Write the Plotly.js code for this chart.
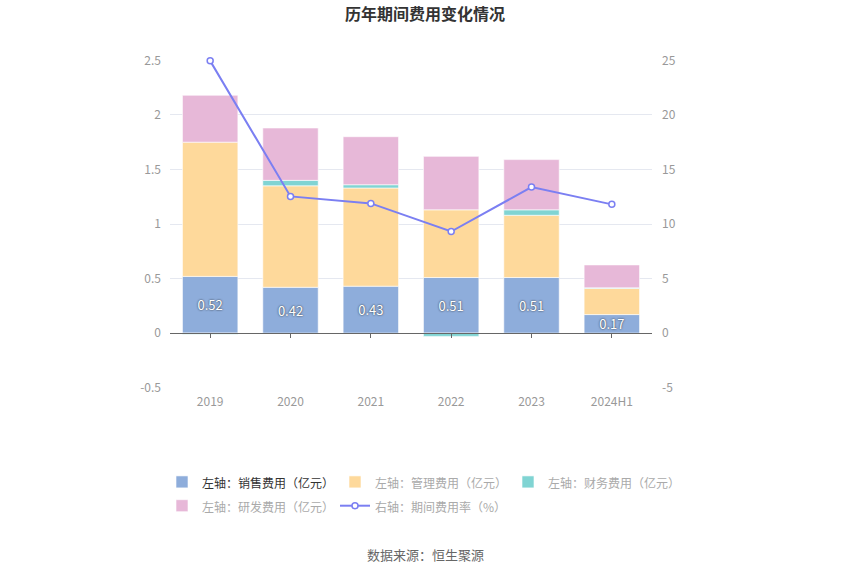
<!DOCTYPE html>
<html><head><meta charset="utf-8">
<script src="https://cdn.plot.ly/plotly-3.0.1.min.js"></script>
<style>body{margin:0;background:#fff}</style>
</head><body>
<div id="chart" style="width:850px;height:575px"></div>
<script>
const years = ['2019','2020','2021','2022','2023','2024H1'];
const sales = [0.52, 0.42, 0.43, 0.51, 0.51, 0.17];
const admin = [1.23, 0.93, 0.90, 0.62, 0.57, 0.24];
const finance = [-0.01, 0.05, 0.03, -0.03, 0.05, 0.005];
const rnd = [0.43, 0.48, 0.44, 0.49, 0.46, 0.21];
const rate = [24.95, 12.53, 11.89, 9.31, 13.38, 11.8];
const salesLabels = ['0.52','0.42','0.43','0.51','0.51','0.17'];
const leftTicks = [-0.5, 0, 0.5, 1, 1.5, 2, 2.5];
const leftTickText = ['-0.5','0','0.5','1','1.5','2','2.5'];
const rightTicks = [-5, 0, 5, 10, 15, 20, 25];
const rightTickText = ['-5','0','5','10','15','20','25'];

const FONT = '"Noto Sans CJK SC", "Noto Sans", sans-serif';
const mk = (c) => ({color: c, line: {color: 'rgba(255,255,255,0.6)', width: 1}});
const lg = (txt, col) => '<span style="font-size:12px;color:' + col + '">' + txt + '</span>';

const traces = [
  {type:'bar', x:years, y:sales, name:lg('左轴：销售费用（亿元）','#333'),
   marker: mk('#8eaddb'), text: salesLabels, textposition:'inside', insidetextanchor:'middle',
   constraintext:'none', textangle:0,
   textfont:{color:'#fff', size:13, family:FONT, shadow:'0px 0px 2px #222'}, hoverinfo:'y'},
  {type:'bar', x:years, y:admin, name:lg('左轴：管理费用（亿元）','#aaa'), marker: mk('#fed99b')},
  {type:'bar', x:years, y:finance, name:lg('左轴：财务费用（亿元）','#aaa'), marker: mk('#80d4d3')},
  {type:'bar', x:years, y:rnd, name:lg('左轴：研发费用（亿元）','#aaa'), marker: mk('#e7b8d8')},
  {type:'scatter', mode:'lines+markers', x:years, y:rate, yaxis:'y2', cliponaxis:false,
   name:lg('右轴：期间费用率（%）','#aaa'),
   line:{color:'#7b7ff2', width:2},
   marker:{symbol:'circle', size:6, color:'#fff', line:{color:'#7b7ff2', width:1.5}}},
  {type:'scatter', x:years, y:sales, xaxis:'x2', mode:'none', showlegend:false, hoverinfo:'skip'}
];

const layout = {
  width:850, height:575,
  margin:{l:170, r:198, t:60, b:187},
  paper_bgcolor:'#fff', plot_bgcolor:'#fff',
  font:{family:FONT, color:'#999', size:12},
  title:{text:'<b>历年期间费用变化情况</b>', x:0.5, xanchor:'center', y:0.975, yanchor:'middle',
         font:{size:16, color:'#333', family:FONT}},
  barmode:'relative', bargap:0.31,
  showlegend:true,
  legend:{orientation:'h', xref:'paper', yref:'paper', x:-8/482, xanchor:'left',
          y:-(465-388)/328, yanchor:'top',
          entrywidth:128, entrywidthmode:'pixels',
          font:{size:16, color:'#aaa', family:FONT}, traceorder:'normal', itemclick:false},
  xaxis:{type:'category', showgrid:false, showline:false, ticks:'', zeroline:false,
         tickfont:{size:12, color:'#999'}, ticklen:0, ticklabelstandoff:5},
  xaxis2:{type:'category', overlaying:'x', anchor:'free', position:1/6, side:'bottom',
          showline:true, linecolor:'#666', linewidth:1, ticks:'outside', ticklen:4, tickcolor:'#666',
          showticklabels:false, showgrid:false, zeroline:false, matches:'x'},
  yaxis:{range:[-0.503,2.503], tickmode:'array', tickvals:leftTicks, ticktext:leftTickText,
         showgrid:true, gridcolor:'#e5e8f0', gridwidth:1,
         zeroline:false, showline:false, ticks:'', ticklen:0,
         tickfont:{size:12, color:'#999'}, ticklabelstandoff:8},
  yaxis2:{range:[-5.03,25.03], tickmode:'array', tickvals:rightTicks, ticktext:rightTickText,
          overlaying:'y', side:'right', showgrid:false,
          zeroline:false, showline:false, ticks:'', tickfont:{size:12, color:'#999'}, ticklabelstandoff:9},
  annotations:[{text:'数据来源：恒生聚源', xref:'paper', yref:'paper', x:(425-170)/(652-170), y:-(554-388)/328,
                xanchor:'center', yanchor:'middle', showarrow:false,
                font:{size:13, color:'#666', family:FONT}}]
};
Plotly.newPlot('chart', traces, layout, {displayModeBar:false, staticPlot:true});
</script>
</body></html>
